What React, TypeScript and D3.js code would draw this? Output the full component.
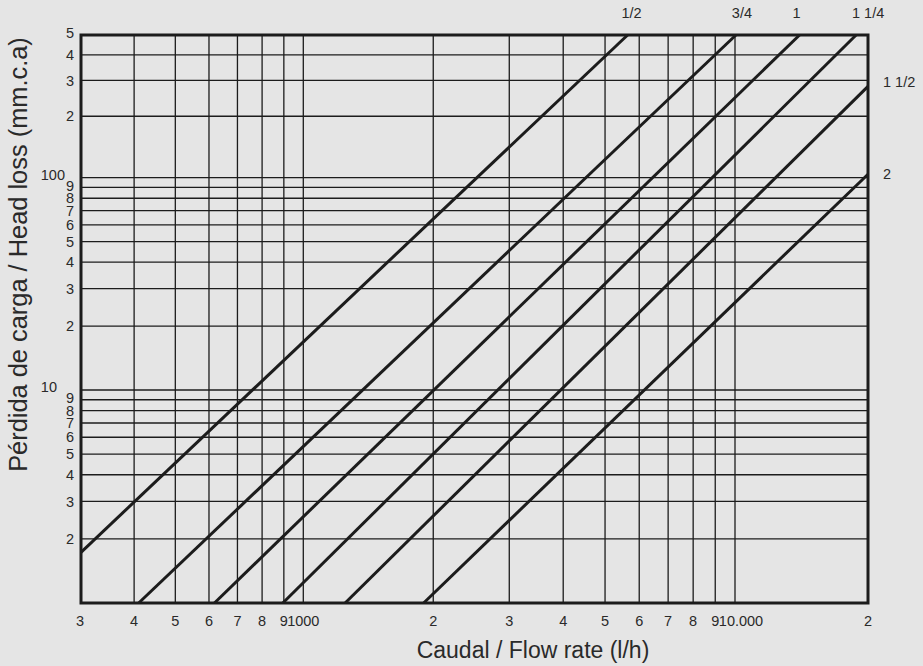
import React from "react";
import * as d3 from "d3";

// pipe sizes and where each curve meets the frame (flow l/h, head loss mm.c.a)
const pipeSizes = ["1/2", "3/4", "1", "1 1/4", "1 1/2", "2"];
const flowStart = [300, 410, 618, 895, 1250, 1900];
const headStart = [1.73, 1, 1, 1, 1, 1];
const flowEnd = [5640, 10050, 14000, 18800, 20000, 20000];
const headEnd = [500, 500, 500, 500, 280, 104];

const flowGrid = [400, 500, 600, 700, 800, 900, 1000, 2000, 3000, 4000, 5000, 6000, 7000, 8000, 9000, 10000];
const headGrid = [2, 3, 4, 5, 6, 7, 8, 9, 10, 20, 30, 40, 50, 60, 70, 80, 90, 100, 200, 300, 400];

const flowTicks = [300, 400, 500, 600, 700, 800, 900, 1000, 2000, 3000, 4000, 5000, 6000, 7000, 8000, 9000, 10000, 20000];
const flowTickLabels = ["3", "4", "5", "6", "7", "8", "9", "1000", "2", "3", "4", "5", "6", "7", "8", "9", "10.000", "2"];
const headTicks = [2, 3, 4, 5, 6, 7, 8, 9, 10, 20, 30, 40, 50, 60, 70, 80, 90, 100, 200, 300, 400, 500];
const headTickLabels = ["2", "3", "4", "5", "6", "7", "8", "9", "10", "2", "3", "4", "5", "6", "7", "8", "9", "100", "2", "3", "4", "5"];

const width = 923;
const height = 666;
const font = "'Liberation Sans', Arial, Helvetica, sans-serif";
const ink = "#1c1c1c";

export default function App() {
  // the printed chart is not a perfect log grid, so the scales are piecewise
  const x = d3.scaleLog().domain([300, 1000, 10000, 20000]).range([81, 303.3, 735, 868]);
  const y = d3.scaleLog().domain([1, 10, 100, 500]).range([603, 390, 177.7, 35]);
  const [x0, x1] = [x(300), x(20000)];
  const [y0, y1] = [y(1), y(500)];

  const line = d3
    .line<[number, number]>()
    .x((d) => x(d[0]))
    .y((d) => y(d[1]));

  const topLabelDx = [4, 6, -3, 12];

  return (
    <div style={{ position: "absolute", left: 0, top: 0 }}>
      <svg width={width} height={height} style={{ display: "block" }}>
        <rect width={width} height={height} fill="#e5e5e5" />

        <g stroke={ink} strokeWidth={1.3}>
          {flowGrid.map((v) => (
            <line key={"vx" + v} x1={x(v)} x2={x(v)} y1={y1} y2={y0} />
          ))}
          {headGrid.map((v) => (
            <line key={"hy" + v} x1={x0} x2={x1} y1={y(v)} y2={y(v)} />
          ))}
        </g>

        <g fill="none" stroke={ink} strokeWidth={3}>
          {pipeSizes.map((p, i) => (
            <path
              key={p}
              d={line([
                [flowStart[i], headStart[i]],
                [flowEnd[i], headEnd[i]],
              ]) as string}
            />
          ))}
        </g>

        <rect x={x0} y={y1} width={x1 - x0} height={y0 - y1} fill="none" stroke={ink} strokeWidth={3} />

        <g fontFamily={font} fontSize={14.5} fill="#2a2a2a">
          {flowTicks.map((v, i) => (
            <text
              key={"fx" + i}
              x={x(v) + (v === 10000 ? 6 : v === 300 ? -1 : 0)}
              y={626}
              textAnchor="middle"
            >
              {flowTickLabels[i]}
            </text>
          ))}
          {headTicks.map((v, i) => {
            const lbl = headTickLabels[i];
            let tx = 74;
            let ty = y(v);
            if (v === 100) {
              tx = 65;
              ty -= 3;
            } else if (v === 10) {
              tx = 57;
              ty -= 3;
            } else if (v === 90 || v === 9) {
              ty -= 2;
            } else if (v === 500) {
              ty -= 2;
            }
            return (
              <text key={"hy" + i} x={tx} y={ty} dy="0.36em" textAnchor="end">
                {lbl}
              </text>
            );
          })}
          {pipeSizes.slice(0, 4).map((p, i) => (
            <text key={"tl" + p} x={x(flowEnd[i]) + topLabelDx[i]} y={18} textAnchor="middle">
              {p}
            </text>
          ))}
          {pipeSizes.slice(4).map((p, i) => (
            <text
              key={"rl" + p}
              x={883}
              y={y(headEnd[i + 4]) - (i === 0 ? 4.5 : 0)}
              dy="0.36em"
              textAnchor="start"
            >
              {p}
            </text>
          ))}
        </g>

        <text
          x={533}
          y={658}
          textAnchor="middle"
          fontFamily={font}
          fontSize={23}
          fill="#2a2a2a"
        >
          Caudal / Flow rate (l/h)
        </text>
        <text
          transform="translate(26.5,254.5) rotate(-90)"
          textAnchor="middle"
          fontFamily={font}
          fontSize={25.4}
          fill="#2a2a2a"
        >
          Pérdida de carga / Head loss (mm.c.a)
        </text>
      </svg>
    </div>
  );
}
